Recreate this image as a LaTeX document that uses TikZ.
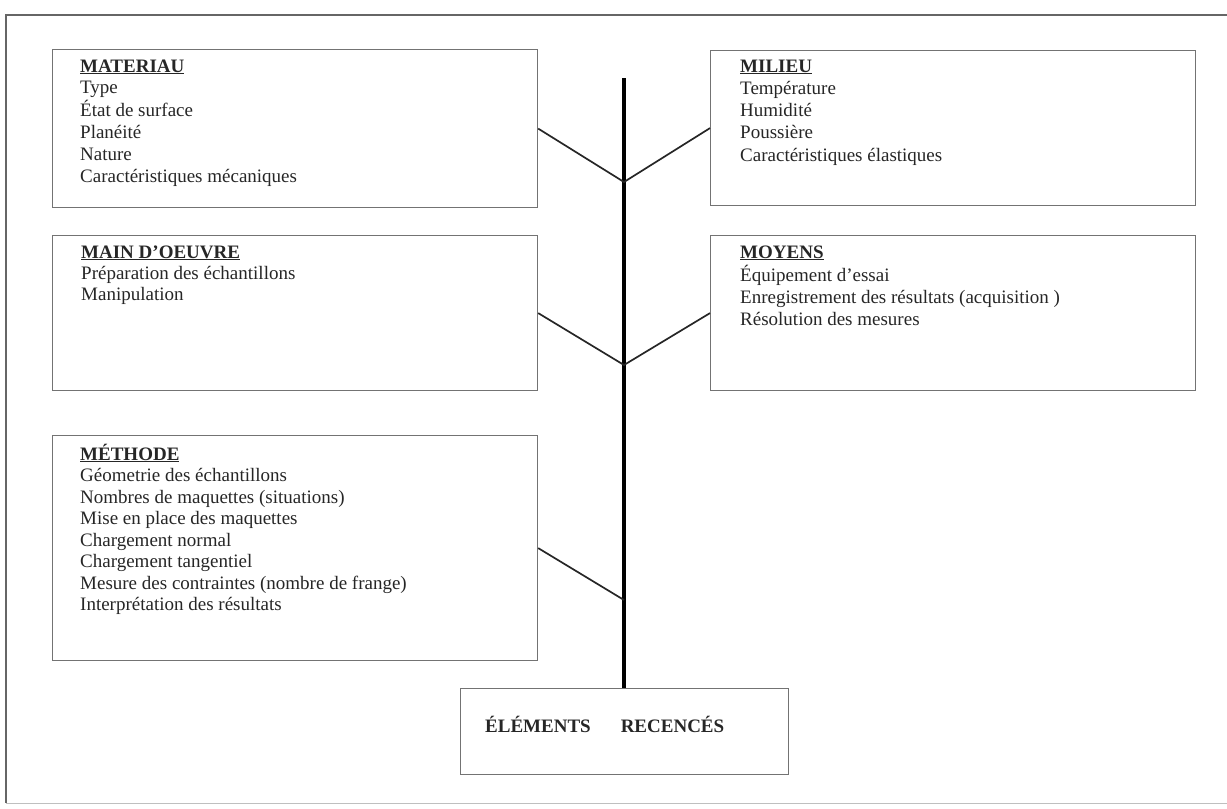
\documentclass[tikz,border=0pt]{standalone}
\usepackage{fontspec}
\setmainfont{Liberation Serif}
\newcommand{\boxlines}[1]{\begin{minipage}[t]{440pt}\raggedright #1\end{minipage}}
\begin{document}
\begin{tikzpicture}[x=1pt,y=-1pt,
  catbox/.style={draw=black!55, line width=1.2pt, minimum width=#1, anchor=north west, inner sep=0pt},
  itemtext/.style={anchor=base west, inner sep=0pt, text=black!85,
    font=\fontsize{19}{22}\selectfont},
  branch/.style={draw=black!85, line width=1.7pt},
  spine/.style={draw=black, line width=3.6pt},
  frame/.style={draw=black!60, line width=2.2pt}]
\useasboundingbox (0,0) rectangle (1227,809);
% outer frame
\coordinate (ftl) at (6,15);
\coordinate (ftr) at (1227,15);
\coordinate (fbl) at (6,803);
\coordinate (fbr) at (1227,803);
\draw[frame] (ftr) -- (ftl) -- (fbl);
\draw[draw=black!25, line width=1pt] (fbl) -- (fbr);
% boxes
\node[catbox=485pt, minimum height=158pt] (mat) at (52,49) {};
\node[catbox=485pt, minimum height=155pt] (mil) at (710,50) {};
\node[catbox=485pt, minimum height=155pt] (mo) at (52,235) {};
\node[catbox=485pt, minimum height=155pt] (moy) at (710,235) {};
\node[catbox=485pt, minimum height=225pt] (met) at (52,435) {};
\node[catbox=328pt, minimum height=86pt] (elem) at (460,688) {};
% texts
\node[itemtext] (matT) at (80,72) {\boxlines{\underline{\textbf{MATERIAU}}\\[-1pt]Type\\[1pt]État de surface\\Planéité\\Nature\\Caractéristiques mécaniques}};
\node[itemtext] (milT) at (740,72) {\boxlines{\underline{\textbf{MILIEU}}\\Température\\Humidité\\Poussière\\[1pt]Caractéristiques élastiques}};
\node[itemtext] (moT) at (81,258) {\boxlines{\underline{\textbf{MAIN D'OEUVRE}}\\[-1pt]Préparation des échantillons\\[-1pt]Manipulation}};
\node[itemtext] (moyT) at (740,258) {\boxlines{\underline{\textbf{MOYENS}}\\[1pt]Équipement d'essai\\Enregistrement des résultats (acquisition )\\Résolution des mesures}};
\node[itemtext] (metT) at (80,460) {\boxlines{\underline{\textbf{MÉTHODE}}\\[-0.5pt]Géometrie des échantillons\\[-0.5pt]Nombres de maquettes (situations)\\[-0.5pt]Mise en place des maquettes\\[-0.5pt]Chargement normal\\[-0.5pt]Chargement tangentiel\\[-0.5pt]Mesure des contraintes (nombre de frange)\\[-0.5pt]Interprétation des résultats}};
\node[itemtext] (elemT) at (485,732) {\textbf{ÉLÉMENTS}\hspace{30pt}\textbf{RECENCÉS}};
% spine and branches
\coordinate (top) at (624,78);
\coordinate (j1) at (624,182);
\coordinate (j2) at (624,365);
\coordinate (j3) at (624,600);
\draw[spine] (top) -- (top |- elem.north);
\draw[branch] (mat.east) -- (j1) -- (mil.west);
\draw[branch] (mo.east) -- (j2) -- (moy.west);
\draw[branch] (met.east) -- (j3);
\end{tikzpicture}
\end{document}
